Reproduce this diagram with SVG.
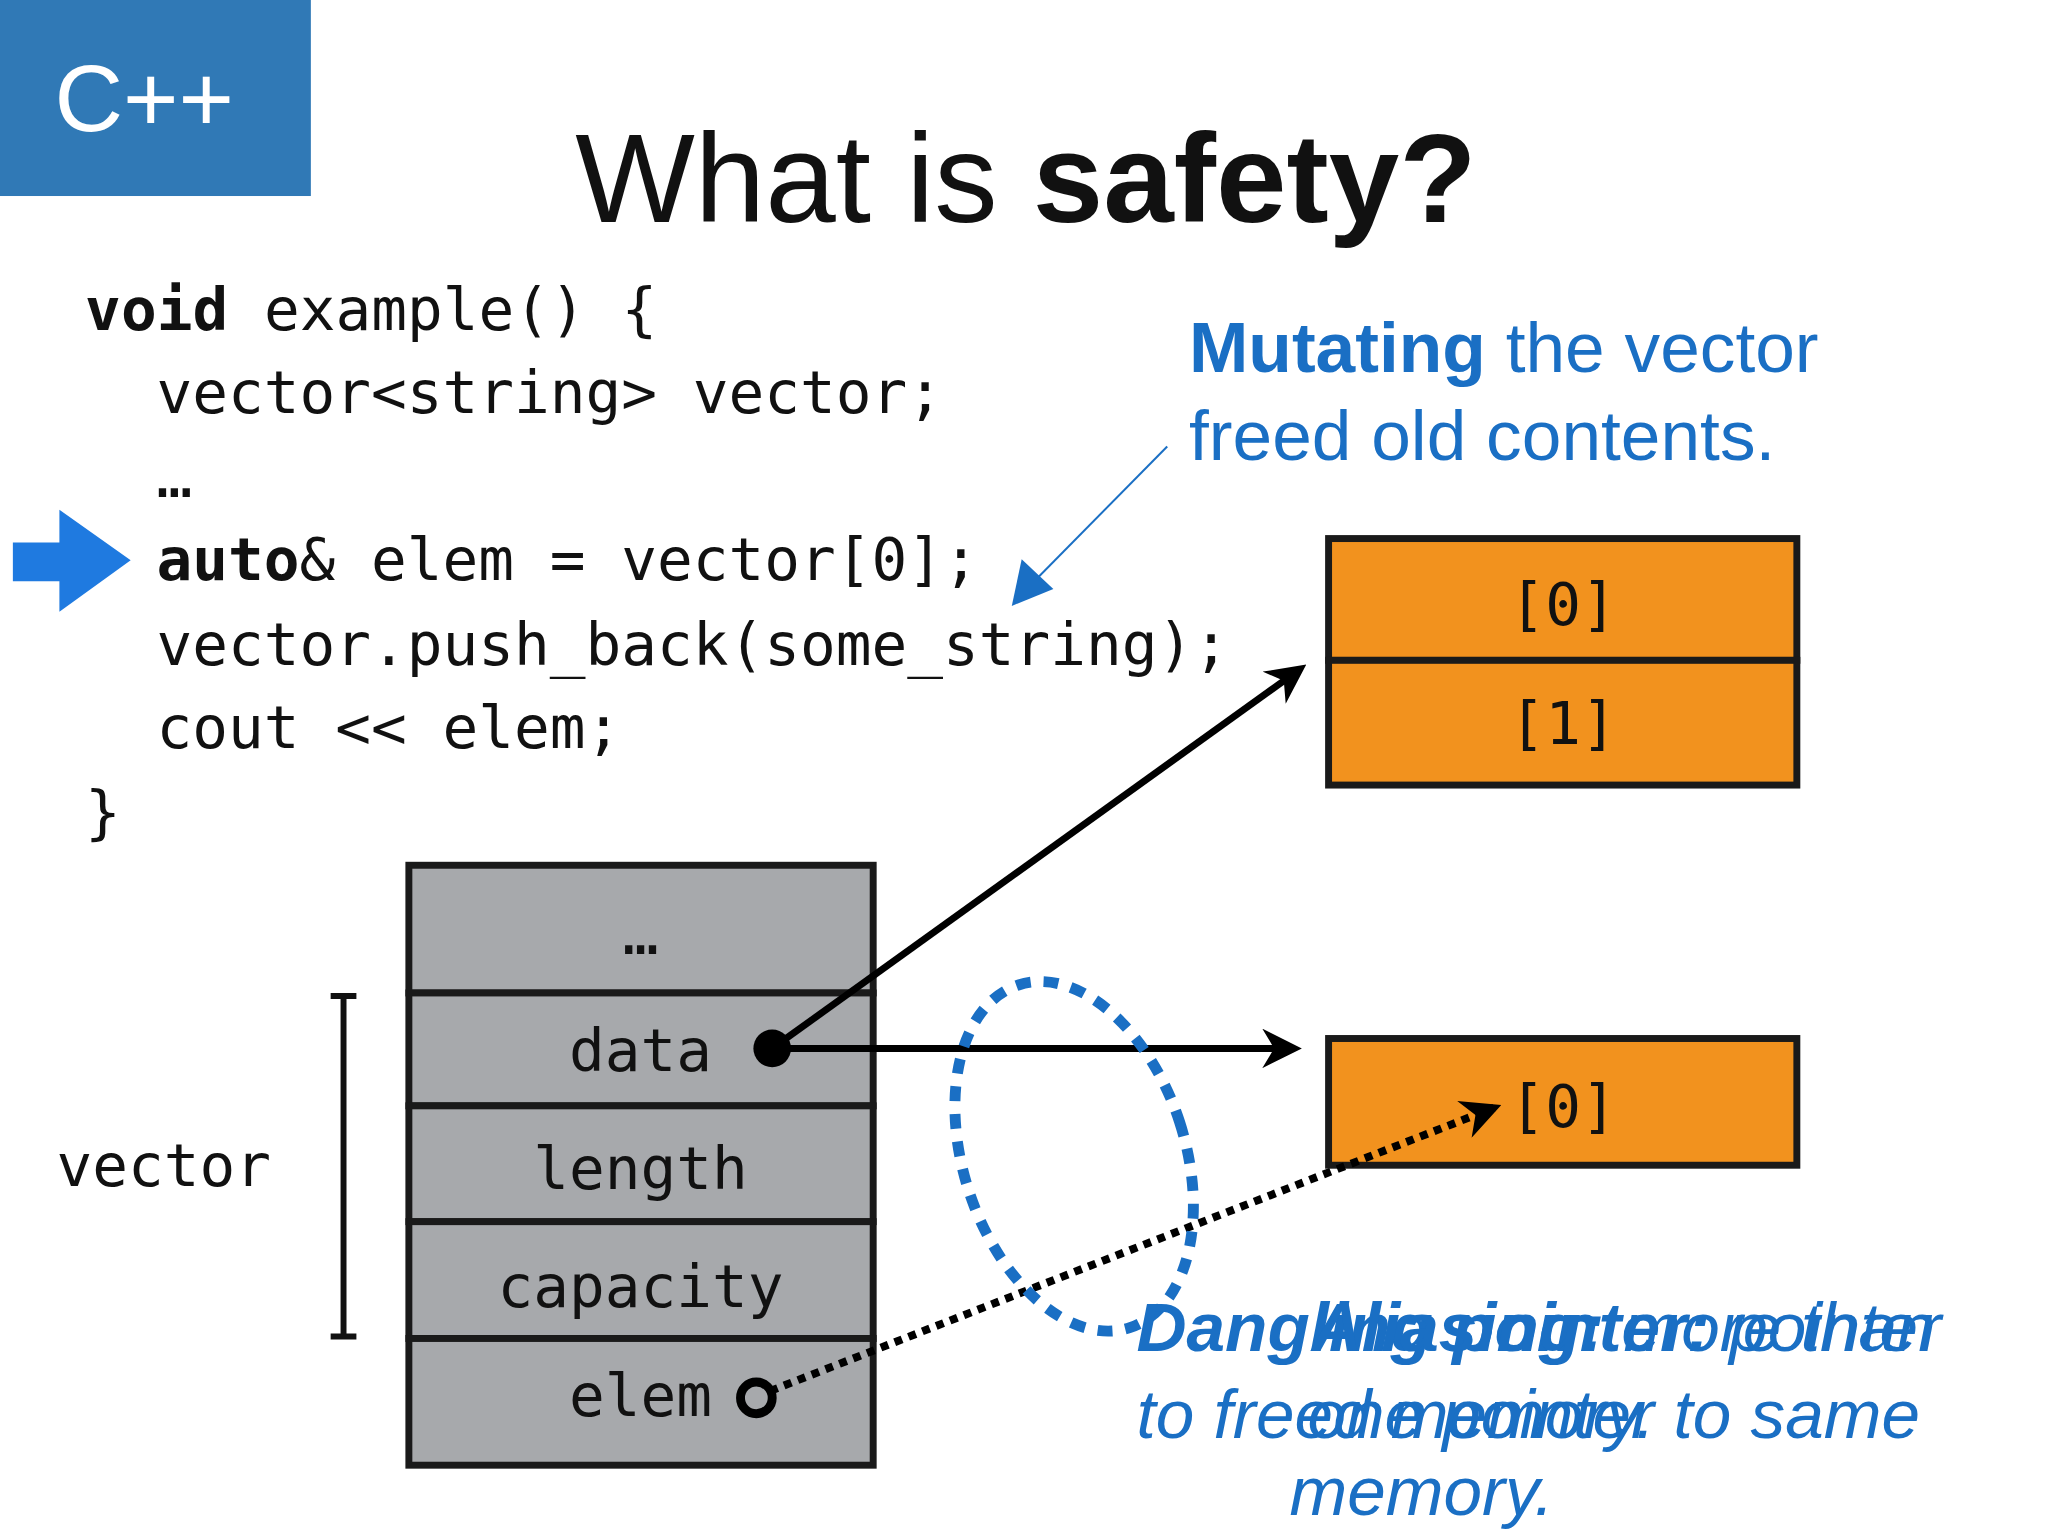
<svg xmlns="http://www.w3.org/2000/svg" width="2048" height="1536" viewBox="0 0 2048 1536">
<style>
.code{font-family:"DejaVu Sans Mono","Liberation Mono",monospace;font-size:60px;fill:#111}
.box{fill:#a7a9ac;stroke:#1a1a1a;stroke-width:7}
.ob{fill:#f2921e;stroke:#1a1a1a;stroke-width:7}
.lbl{font-family:"DejaVu Sans Mono","Liberation Mono",monospace;font-size:60px;fill:#111;text-anchor:middle}
.blue{font-family:"Liberation Sans",Arial,sans-serif;fill:#1a6fc4}
.note{font-family:"Liberation Sans",Arial,sans-serif;font-style:italic;font-size:70px;fill:#1a6fc4}
</style>
<defs>
<marker id="ah" viewBox="0 0 10 10" refX="8" refY="5" markerWidth="40" markerHeight="40" markerUnits="userSpaceOnUse" orient="auto"><path d="M0,0 L10,5 L0,10 L3,5 z" fill="#000"/></marker>
</defs>
<rect width="2048" height="1536" fill="#fff"/>
<g transform="scale(0.99)">
<g id="badge"><rect x="0" y="0" width="314" height="198" fill="#3079b6"/><text x="55" y="132" font-family="Liberation Sans,Arial,sans-serif" font-size="96" fill="#fff">C++</text></g>
<g id="title"><text x="581" y="224" font-family="Liberation Sans,Arial,sans-serif" font-size="128" fill="#111">What is <tspan font-weight="bold">safety?</tspan></text></g>
<g id="code">
<text class="code" x="86" y="333"><tspan font-weight="bold">void</tspan> example() {</text>
<text class="code" x="158" y="417">vector&lt;string&gt; vector;</text>
<text class="code" x="158" y="502">…</text>
<text class="code" x="158" y="586"><tspan font-weight="bold">auto</tspan>&amp; elem = vector[0];</text>
<text class="code" x="158" y="672">vector.push_back(some_string);</text>
<text class="code" x="158" y="756">cout &lt;&lt; elem;</text>
<text class="code" x="86" y="841">}</text>
<path d="M13,548 H60 V515 L132,566 L60,618 V587 H13 z" fill="#1f7ae0"/>
</g>
<g id="mutating">
<text class="blue" x="1201" y="376" font-size="72"><tspan font-weight="bold">Mutating</tspan> the vector</text>
<text class="blue" x="1201" y="465" font-size="72">freed old contents.</text>
</g>
<g id="vecbox">
<rect class="box" x="413" y="874" width="469" height="129"/>
<rect class="box" x="413" y="1003" width="469" height="114"/>
<rect class="box" x="413" y="1117" width="469" height="117"/>
<rect class="box" x="413" y="1234" width="469" height="118"/>
<rect class="box" x="413" y="1352" width="469" height="128"/>
<text class="lbl" x="647" y="964">…</text>
<text class="lbl" x="647" y="1082">data</text>
<text class="lbl" x="647" y="1201">length</text>
<text class="lbl" x="647" y="1320">capacity</text>
<text class="lbl" x="647" y="1430">elem</text>
<path d="M347,1006 V1350 M334,1006 H360 M334,1350 H360" stroke="#111" stroke-width="6" fill="none"/>
<text class="code" x="57" y="1198">vector</text>
</g>
<g id="heap1"><rect class="ob" x="1342" y="544" width="473" height="123"/><rect class="ob" x="1342" y="667" width="473" height="126"/>
<text class="lbl" x="1579" y="631">[0]</text><text class="lbl" x="1579" y="752">[1]</text></g>
<g id="heap2"><rect class="ob" x="1342" y="1049" width="473" height="128"/><text class="lbl" x="1579" y="1138">[0]</text></g>
<g id="connectors">
<line x1="1179" y1="451" x2="1030" y2="602" stroke="#1a6fc4" stroke-width="2"/>
<path d="M1022,612 L1032,565 L1064,595 z" fill="#1a6fc4"/>
<line x1="780" y1="1059" x2="1313" y2="676" stroke="#000" stroke-width="7" marker-end="url(#ah)"/>
<line x1="780" y1="1059" x2="1307" y2="1059" stroke="#000" stroke-width="7" marker-end="url(#ah)"/>
<circle cx="780" cy="1059" r="19" fill="#000"/>
<line x1="778" y1="1405" x2="1509" y2="1119" stroke="#000" stroke-width="8" stroke-dasharray="8,7" marker-end="url(#ah)"/>
<circle cx="764" cy="1412" r="16" fill="none" stroke="#000" stroke-width="9"/>
<ellipse cx="1085" cy="1168" rx="112" ry="182" transform="rotate(-18 1085 1168)" fill="none" stroke="#1a6fc4" stroke-width="11" stroke-dasharray="15,13"/>
</g>
<g id="notes">
<text class="note" x="1148" y="1365"><tspan font-weight="bold">Dangling pointer:</tspan> pointer</text>
<text class="note" x="1148" y="1453">to freed memory.</text>
<text class="note" x="1640" y="1365" text-anchor="middle"><tspan font-weight="bold">Aliasing:</tspan> more than</text>
<text class="note" x="1630" y="1453" text-anchor="middle">one pointer to same</text>
<text class="note" x="1436" y="1530" text-anchor="middle">memory.</text>
</g>
</g>
</svg>
